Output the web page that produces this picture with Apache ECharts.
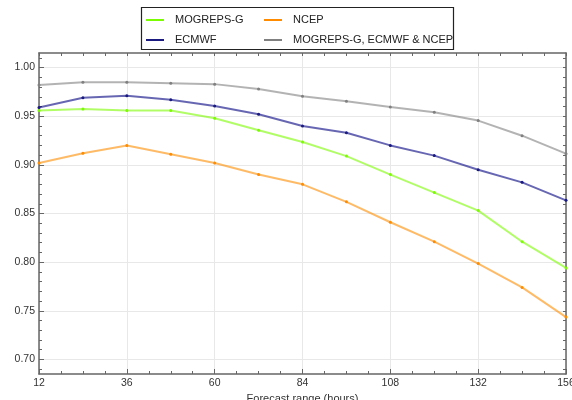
<!DOCTYPE html>
<html>
<head>
<meta charset="utf-8">
<script src="https://cdn.jsdelivr.net/npm/echarts@6/dist/echarts.min.js"></script>
<style>
  html, body { margin: 0; padding: 0; background: #fff; }
  #chart { width: 572px; height: 400px; }
</style>
</head>
<body>
<div id="chart"></div>
<script>
// forecast range (hours)
var hours = [12, 24, 36, 48, 60, 72, 84, 96, 108, 120, 132, 144, 156];
// scores
var mogreps = [0.956, 0.9575, 0.956, 0.956, 0.948, 0.9355, 0.9235, 0.909, 0.890, 0.8715, 0.853, 0.821, 0.794];
var ecmwf = [0.959, 0.969, 0.971, 0.967, 0.9605, 0.952, 0.940, 0.933, 0.920, 0.9095, 0.895, 0.882, 0.8635];
var ncep = [0.902, 0.912, 0.920, 0.911, 0.902, 0.890, 0.880, 0.862, 0.841, 0.821, 0.7985, 0.774, 0.7435];
var combined = [0.982, 0.985, 0.985, 0.984, 0.983, 0.978, 0.9705, 0.9655, 0.9595, 0.954, 0.9455, 0.930, 0.9115];
// y tick labels
var yTicks = [0.70, 0.75, 0.80, 0.85, 0.90, 0.95, 1.00];

var names = ["MOGREPS-G", "ECMWF", "NCEP", "MOGREPS-G, ECMWF & NCEP"];
var colors = ["#7cfc00", "#1a1a80", "#ff8c00", "#808080"];
var lineColors = ["rgba(124,252,0,0.6)", "rgba(0,0,128,0.6)", "rgba(255,140,0,0.6)", "rgba(128,128,128,0.6)"];

var font = "Liberation Sans";
var axisColor = "#666";
var gridColor = "#e8e8e8";

// small 0.01 marks between the labelled ticks
var yMinor = [];
for (var k = 69; k <= 101; k++) yMinor.push(k / 100);

function makeSeries(i, values) {
  return {
    name: names[i],
    type: "line",
    data: values,
    xAxisIndex: 0,
    yAxisIndex: 0,
    symbol: "circle",
    symbolSize: 3,
    color: colors[i],
    itemStyle: { color: colors[i] },
    lineStyle: { color: lineColors[i], width: 2 },
    emphasis: { disabled: true },
  };
}

// only ticks, used for the small 6h / 0.01 marks
function minorX(pos, withLine) {
  return {
    type: "value", position: pos, min: 12, max: 156, interval: 6,
    axisLine: { show: withLine, lineStyle: { color: axisColor, width: 1.5 } },
    axisTick: { show: true, inside: true, length: 3, lineStyle: { color: axisColor } },
    axisLabel: { show: false },
    splitLine: { show: false },
  };
}
function minorY(pos, withLine) {
  return {
    type: "value", position: pos, min: 0.685, max: 1.015,
    axisLine: { show: withLine, lineStyle: { color: axisColor, width: 1.5 } },
    axisTick: { show: true, inside: true, length: 3, customValues: yMinor, lineStyle: { color: axisColor } },
    axisLabel: { show: false },
    splitLine: { show: false },
  };
}

var legendText = { fontSize: 11, fontFamily: font, color: "#222", lineHeight: 14, padding: [0, 0, 0, 6] };

var option = {
  backgroundColor: "#fff",
  animation: false,
  grid: { left: 39, right: 6, top: 53, bottom: 26, outerBoundsMode: "none", containLabel: false },
  legend: [
    {
      data: [names[0], names[1]], orient: "vertical", left: 146, top: 13,
      itemWidth: 18, itemHeight: 2, icon: "rect", itemGap: 6, padding: 0,
      textStyle: legendText, selectedMode: false,
    },
    {
      data: [names[2], names[3]], orient: "vertical", left: 264, top: 13,
      itemWidth: 18, itemHeight: 2, icon: "rect", itemGap: 6, padding: 0,
      textStyle: legendText, selectedMode: false,
    },
  ],
  graphic: [
    {
      type: "rect", z: -1,
      shape: { x: 141.5, y: 7.5, width: 312, height: 42 },
      style: { fill: "none", stroke: "#222", lineWidth: 1.2 },
    },
  ],
  xAxis: [
    {
      type: "category",
      data: hours.map(String),
      boundaryGap: false,
      position: "bottom",
      name: "Forecast range (hours)",
      nameLocation: "middle",
      nameGap: 16,
      nameTextStyle: { fontSize: 11, fontFamily: font, color: "#333" },
      axisLine: { lineStyle: { color: axisColor, width: 1.5 } },
      axisTick: { inside: true, length: 5, interval: 1, lineStyle: { color: axisColor } },
      axisLabel: { interval: 1, margin: 4, fontSize: 10.5, fontFamily: font, color: "#333" },
      splitLine: { show: true, interval: 1, lineStyle: { color: gridColor, width: 1 } },
    },
    minorX("bottom", false),
    minorX("top", true),
  ],
  yAxis: [
    {
      type: "value",
      min: 0.685,
      max: 1.015,
      axisLine: { show: true, lineStyle: { color: axisColor, width: 1.5 } },
      axisTick: { show: true, inside: true, length: 5, customValues: yTicks, lineStyle: { color: axisColor } },
      axisLabel: {
        margin: 4, fontSize: 10.5, fontFamily: font, color: "#333",
        customValues: yTicks,
        formatter: function (v) { return v.toFixed(2); },
      },
      splitLine: { show: true, lineStyle: { color: gridColor, width: 1 } },
    },
    minorY("left", false),
    minorY("right", true),
  ],
  series: [
    makeSeries(0, mogreps),
    makeSeries(1, ecmwf),
    makeSeries(2, ncep),
    makeSeries(3, combined),
  ],
};

var myChart = echarts.init(document.getElementById("chart"));
myChart.setOption(option);
window.addEventListener("resize", function () {
  myChart.resize();
});
</script>
</body>
</html>
